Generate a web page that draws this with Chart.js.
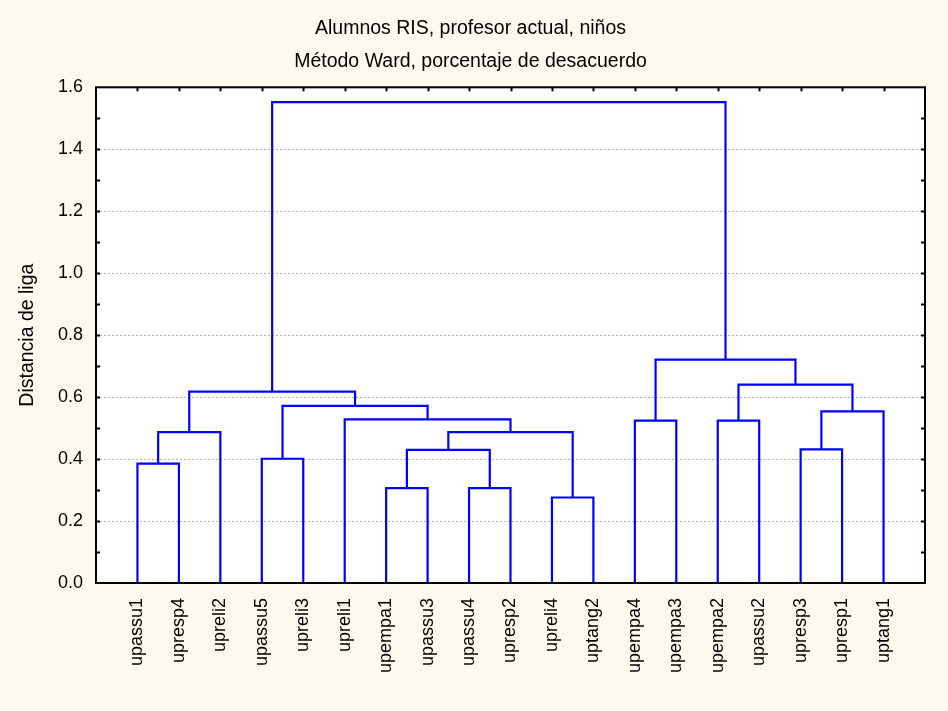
<!DOCTYPE html>
<html>
<head>
<meta charset="utf-8">
<script src="https://cdn.jsdelivr.net/npm/chart.js@4/dist/chart.umd.min.js"></script>
<style>
  html, body { margin: 0; padding: 0; background: #fdf9ef; }
  #wrap { width: 948px; height: 711px; }
</style>
</head>
<body>
<div id="wrap"><canvas id="dendro" width="948" height="711"></canvas></div>
<script>
// leaves, left to right
const leaves = [
  'upassu1', 'upresp4', 'upreli2', 'upassu5', 'upreli3', 'upreli1',
  'upempa1', 'upassu3', 'upassu4', 'upresp2', 'upreli4', 'uptang2',
  'upempa4', 'upempa3', 'upempa2', 'upassu2', 'upresp3', 'upresp1', 'uptang1'
];
// merge steps: ids 0..18 are leaves, each step creates id 19, 20, ...
const mergeLeft   = [10, 6, 8, 0, 3, 20, 16, 22, 24, 12, 14, 5, 25, 23, 26, 29, 28, 33];
const mergeRight  = [11, 7, 9, 1, 4, 21, 17, 2, 19, 13, 15, 27, 18, 30, 32, 31, 34, 35];
const mergeHeight = [0.276, 0.306, 0.306, 0.385, 0.401, 0.430, 0.431, 0.487, 0.487,
                     0.524, 0.524, 0.528, 0.554, 0.572, 0.618, 0.640, 0.721, 1.552];
const yTicks = [0, 0.2, 0.4, 0.6, 0.8, 1.0, 1.2, 1.4, 1.6];

// node positions (x in leaf units, y = height)
const nodeX = leaves.map((_, i) => i + 1);
const nodeY = leaves.map(() => 0);
const datasets = [];
mergeLeft.forEach((l, k) => {
  const r = mergeRight[k], h = mergeHeight[k];
  datasets.push({
    data: [
      { x: nodeX[l], y: nodeY[l] },
      { x: nodeX[l], y: h },
      { x: nodeX[r], y: h },
      { x: nodeX[r], y: nodeY[r] }
    ],
    showLine: true,
    borderColor: '#0000ff',
    borderWidth: 2.2,
    pointRadius: 0,
    fill: false
  });
  nodeX.push((nodeX[l] + nodeX[r]) / 2);
  nodeY.push(h);
});

const frame = {
  id: 'frame',
  beforeDraw(chart) {
    const { ctx, chartArea: a } = chart;
    ctx.save();
    ctx.fillStyle = '#fdf9ef';
    ctx.fillRect(0, 0, chart.width, chart.height);
    ctx.fillStyle = '#ffffff';
    ctx.fillRect(a.left, a.top, a.right - a.left, a.bottom - a.top);
    ctx.restore();
  },
  afterDraw(chart) {
    const { ctx, chartArea: a, scales } = chart;
    ctx.save();
    ctx.strokeStyle = '#000';
    ctx.lineWidth = 2;
    ctx.strokeRect(a.left, a.top, a.right - a.left, a.bottom - a.top);
    ctx.beginPath();
    for (let v = 1; v < 16; v++) {
      const y = Math.round(scales.y.getPixelForValue(v / 10)) + 0.5;
      const len = 4;
      ctx.moveTo(a.left, y); ctx.lineTo(a.left + len, y);
      ctx.moveTo(a.right, y); ctx.lineTo(a.right - len, y);
    }
    for (let i = 1; i <= leaves.length; i++) {
      const x = Math.round(scales.x.getPixelForValue(i)) + 0.5;
      ctx.moveTo(x, a.top); ctx.lineTo(x, a.top + 4);
    }
    ctx.stroke();
    ctx.restore();
  }
};

new Chart(document.getElementById('dendro').getContext('2d'), {
  type: 'scatter',
  data: { datasets: datasets },
  plugins: [frame],
  options: {
    responsive: false,
    animation: false,
    layout: { padding: { left: 16, right: 23, top: 0, bottom: 0 } },
    plugins: {
      legend: { display: false },
      tooltip: { enabled: false },
      title: {
        display: true,
        text: ['Alumnos RIS, profesor actual, niños', 'Método Ward, porcentaje de desacuerdo'],
        color: '#000',
        font: { family: 'Liberation Sans, Arial, sans-serif', size: 19.5, weight: 'normal', lineHeight: 1.7 },
        padding: { top: 12, bottom: 9 }
      }
    },
    scales: {
      x: {
        type: 'linear',
        min: 0,
        max: 20,
        afterFit(s) { s.height = 128; s.paddingLeft = 0; s.paddingRight = 0; },
        border: { display: false },
        grid: { display: false },
        ticks: {
          stepSize: 1,
          autoSkip: false,
          maxRotation: 90,
          minRotation: 90,
          padding: 7,
          color: '#000',
          font: { family: 'Liberation Sans, Arial, sans-serif', size: 18 },
          callback: v => leaves[v - 1] || ''
        }
      },
      y: {
        min: 0,
        max: 1.6,
        afterFit(s) { s.width = 80; },
        afterBuildTicks(s) { s.ticks = yTicks.map(v => ({ value: v })); },
        border: { display: false, dash: [2, 2] },
        grid: {
          drawTicks: false,
          color: c => (c.tick && c.tick.value > 0 && c.tick.value < 1.6) ? '#b4b4b4' : 'transparent',
          lineWidth: 1
        },
        ticks: {
          padding: 13,
          color: '#000',
          font: { family: 'Liberation Sans, Arial, sans-serif', size: 18 },
          callback: v => v.toFixed(1)
        },
        title: {
          display: true,
          text: 'Distancia de liga',
          color: '#000',
          font: { family: 'Liberation Sans, Arial, sans-serif', size: 19.5 },
          padding: { top: 0, bottom: 0 }
        }
      }
    }
  }
});
</script>
</body>
</html>
